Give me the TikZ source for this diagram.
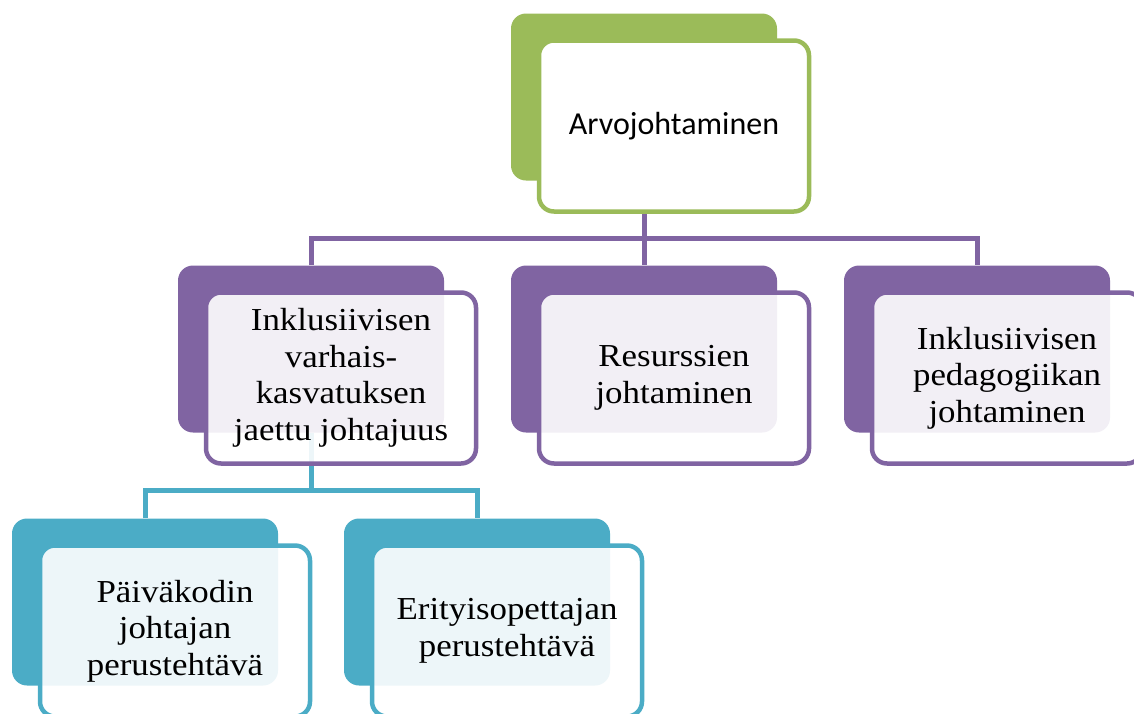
\documentclass[tikz,border=0pt]{standalone}
\usepackage{fontspec}
\setmainfont{Liberation Serif}[FakeStretch=1.09]
\newfontfamily\calfont{Carlito}
\definecolor{cgreen}{HTML}{9BBB59}
\definecolor{cpurple}{HTML}{8064A2}
\definecolor{cteal}{HTML}{4BACC6}
\tikzset{
  backbox/.style={rectangle, rounded corners=15pt, draw=none, fill=#1,
    minimum width=266pt, minimum height=167pt, inner sep=0pt},
  frontbox/.style={rectangle, rounded corners=15pt, draw=#1, line width=4.5pt,
    fill=white, fill opacity=0.9, text opacity=1,
    minimum width=270pt, minimum height=171pt, inner sep=0pt, align=center,
    font=\fontsize{32}{36.5}\selectfont},
  conn/.style={draw=#1, line width=5pt}
}
\begin{document}
\begin{tikzpicture}[x=1pt,y=-1pt]
\useasboundingbox (0,0) rectangle (1134,713);
\clip (0,0) rectangle (1134,713);
% back boxes
\node[backbox=cgreen]  (gb)  at (644,97)  {};
\node[backbox=cpurple] (p1b) at (311,349) {};
\node[backbox=cpurple] (p2b) at (644,349) {};
\node[backbox=cpurple] (p3b) at (977,349) {};
\node[backbox=cteal]   (t1b) at (145,602) {};
\node[backbox=cteal]   (t2b) at (477,602) {};
% connectors
\coordinate (pbar) at (644,238);
\coordinate (tbar) at (311,490);
\draw[conn=cpurple] (gb.south) -- (pbar);
\draw[conn=cpurple] (p1b.north) |- (pbar) -| (p3b.north);
\draw[conn=cpurple] (pbar) -- (p2b.north);
\draw[conn=cteal] (p1b.south) -- (tbar);
\draw[conn=cteal] (t1b.north) |- (tbar) -| (t2b.north);
% front boxes
\node[frontbox=cgreen, fill opacity=1, font=\calfont\fontsize{32}{38}\selectfont] (gf) at (674,126) {Arvojohtaminen};
\node[frontbox=cpurple] (p1f) at (341,378) {Inklusiivisen\\varhais-\\kasvatuksen\\jaettu johtajuus};
\node[frontbox=cpurple] (p2f) at (674,378) {Resurssien\\johtaminen};
\node[frontbox=cpurple] (p3f) at (1007,378) {Inklusiivisen\\pedagogiikan\\johtaminen};
\node[frontbox=cteal] (t1f) at (175,631) {Päiväkodin\\johtajan\\perustehtävä};
\node[frontbox=cteal] (t2f) at (507,631) {Erityisopettajan\\perustehtävä};
\end{tikzpicture}
\end{document}
